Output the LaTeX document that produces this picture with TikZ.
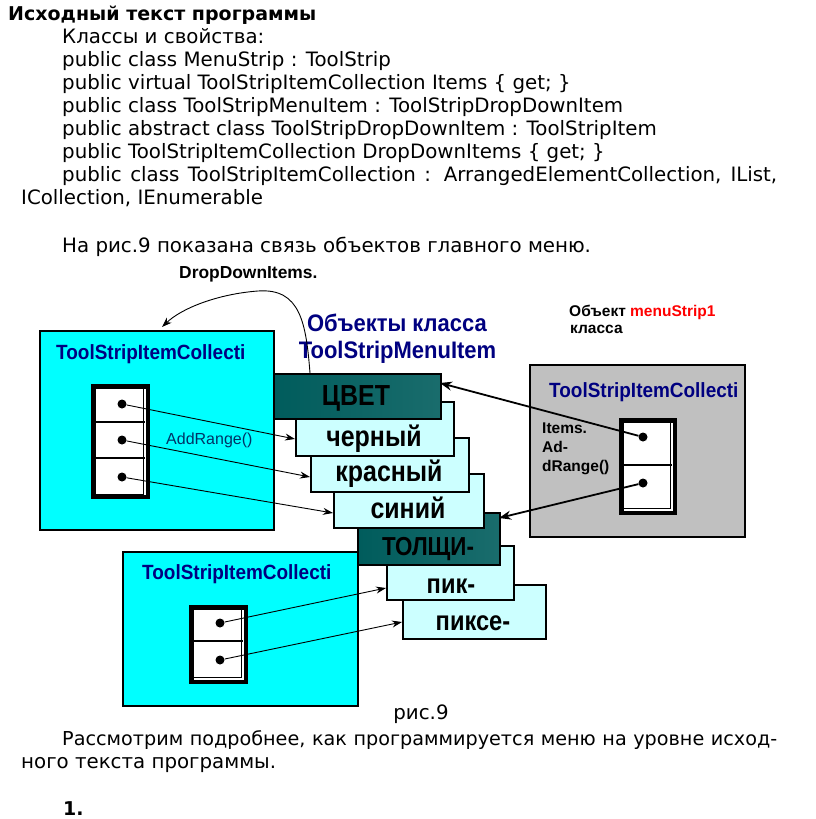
\documentclass[tikz,border=0pt]{standalone}
\usepackage{fontspec}
\setmainfont{DejaVu Sans}
\newfontfamily\arialf{Liberation Sans}
\newfontfamily\arialn{Liberation Sans}[FakeStretch=0.86]
\newfontfamily\arialm{Liberation Sans}[FakeStretch=0.92]
\usetikzlibrary{arrows.meta}
\definecolor{cyanfill}{RGB}{0,255,255}
\definecolor{lightcy}{RGB}{204,255,255}
\definecolor{grayfill}{RGB}{192,192,192}
\definecolor{navytxt}{RGB}{0,0,128}
\definecolor{tealdark}{RGB}{0,92,92}
\definecolor{tealmid}{RGB}{70,165,165}
\definecolor{addcol}{RGB}{0,51,102}
\begin{document}
\begin{tikzpicture}[x=1pt,y=-1pt,
  txt/.style={anchor=base west, inner sep=0, font=\fontsize{19.8}{23}\selectfont},
  hd/.style={anchor=base west, inner sep=0, font=\fontsize{19}{23}\selectfont\bfseries},
  box/.style={draw=black, line width=2pt, anchor=north west, inner sep=0},
  cyanbox/.style={box, fill=cyanfill},
  graybox/.style={box, fill=grayfill},
  itembox/.style={box, fill=lightcy},
  darkbox/.style={box, left color=tealdark, middle color=tealmid, right color=tealdark!90},
  lbl/.style={anchor=base, inner sep=0, font=\arialn\bfseries\fontsize{29}{29}\selectfont},
  lbls/.style={anchor=base, inner sep=0, font=\arialn\bfseries\fontsize{27.5}{28}\selectfont},
  coltitle/.style={anchor=base west, inner sep=0, text=navytxt, font=\arialm\bfseries\fontsize{20.6}{21}\selectfont},
  objtitle/.style={anchor=base, inner sep=0, text=navytxt, font=\arialm\bfseries\fontsize{23.9}{24}\selectfont},
  small/.style={anchor=base west, inner sep=0, font=\arialf\bfseries\fontsize{15.5}{16}\selectfont},
  frameout/.style={draw=black, line width=4.5pt, fill=white, anchor=north west, inner sep=0},
  framein/.style={draw=black, line width=0.7pt, anchor=north west, inner sep=0},
  dot/.style={circle, fill=black, inner sep=0, minimum size=9pt},
  link/.style={-{Stealth[length=10pt,width=7pt]}, line width=0.9pt},
  blink/.style={-{Stealth[length=12pt,width=9pt]}, line width=1.8pt}
]
\useasboundingbox (0,0) rectangle (816,819);
\fill[white] (0,0) rectangle (816,819);

% ---------- text ----------
\node[hd] (h) at (8,20.5) {Исходный текст программы};
\node[txt] (t1) at (62,43.5) {Классы и свойства:};
\node[txt] (t2) at (62,66.5) {public class MenuStrip : ToolStrip};
\node[txt] (t3) at (62,89.5) {public virtual ToolStripItemCollection Items \{ get; \}};
\node[txt] (t4) at (62,112.5) {public class ToolStripMenuItem : ToolStripDropDownItem};
\node[txt] (t5) at (62,135.5) {public abstract class ToolStripDropDownItem : ToolStripItem};
\node[txt] (t6) at (62,158.5) {public ToolStripItemCollection DropDownItems \{ get; \}};
\node[txt] (t7) at (62,181.5) {\makebox[715pt][s]{public class ToolStripItemCollection : ArrangedElementCollection, IList,}};
\node[txt] (t8) at (21,204.5) {ICollection, IEnumerable};
\node[txt] (t9) at (62,252) {На рис.9 показана связь объектов главного меню.};
\node[txt, anchor=base] (cap) at (421,719) {рис.9};
\node[txt, font=\fontsize{19.2}{23}\selectfont] (t10) at (62,745) {\makebox[715pt][s]{Рассмотрим подробнее, как программируется меню на уровне исход-}};
\node[txt] (t11) at (21,768) {ного текста программы.};
\node[hd] (t12) at (63,815) {1.};

% ---------- big boxes ----------
\node[cyanbox, minimum width=234pt, minimum height=199pt] (tl) at (39,330) {};
\node[cyanbox, minimum width=235pt, minimum height=154pt] (bl) at (122,551) {};
\node[graybox, minimum width=215pt, minimum height=172pt] (gr) at (529,364) {};

\node[coltitle] (tlt) at (56,359) {ToolStripItemCollecti};
\node[coltitle] (blt) at (142,579) {ToolStripItemCollecti};
\node[coltitle] (grt) at (549,397) {ToolStripItemCollecti};

% ---------- lists ----------
\node[frameout, minimum width=54.5pt, minimum height=110.5pt] (l1) at (91.25,384.25) {};
\node[framein, minimum width=48pt, minimum height=106pt] (l1i) at (94.5,387.5) {};
\draw[line width=2pt] (92,422) -- (145,422) (92,458) -- (145,458);

\node[frameout, minimum width=53.5pt, minimum height=92.5pt] (l2) at (619.25,418.25) {};
\node[framein, minimum width=47pt, minimum height=86pt] (l2i) at (622.5,421.5) {};
\draw[line width=2pt] (620,465) -- (672,465);

\node[frameout, minimum width=54.5pt, minimum height=74.5pt] (l3) at (189.25,605.25) {};
\node[framein, minimum width=48pt, minimum height=68pt] (l3i) at (192.5,608.5) {};
\draw[line width=2pt] (190,641) -- (243,641);

\node[dot] (d1) at (122,404) {};
\node[dot] (d2) at (122,440) {};
\node[dot] (d3) at (122,477) {};
\node[dot] (g1) at (643,437) {};
\node[dot] (g2) at (643,483) {};
\node[dot] (e1) at (220,623) {};
\node[dot] (e2) at (220,660) {};

% ---------- menu item stack ----------
\node[itembox, minimum width=143pt, minimum height=54pt] (pikse) at (402,584) {};
\node[itembox, minimum width=127pt, minimum height=54pt] (pik) at (386,545) {};
\node[darkbox, minimum width=142pt, minimum height=52pt] (tol) at (357,512) {};
\node[itembox, minimum width=150pt, minimum height=54pt] (sin) at (333,473) {};
\node[itembox, minimum width=158pt, minimum height=54pt] (kras) at (310,437) {};
\node[itembox, minimum width=158pt, minimum height=54pt] (cher) at (295,401) {};
\node[darkbox, minimum width=167pt, minimum height=45pt] (cvet) at (273,373) {};

\node[lbl] at (356,405) {ЦВЕТ};
\node[lbl] at (374,446) {черный};
\node[lbl] at (389,481.5) {красный};
\node[lbl] at (408,518) {синий};
\node[lbls, font=\arialn\bfseries\fontsize{26}{26}\selectfont] at (428,555) {ТОЛЩИ-};
\node[lbls] at (451,593) {пик-};
\node[lbls] at (473,630) {пиксе-};

% ---------- labels ----------
\node[small, font=\arialf\bfseries\fontsize{17.4}{18}\selectfont] (ddi) at (179,278) {DropDownItems.};
\node[objtitle] (oc1) at (397,331) {Объекты класса};
\node[objtitle] (oc2) at (397.5,358) {ToolStripMenuItem};
\node[small] (om1) at (569,316) {Объект \textcolor{red}{menuStrip1}};
\node[small] (om2) at (570,333) {класса};
\node[small] (it1) at (542,433) {Items.};
\node[small] (it2) at (542,452) {Ad-};
\node[small] (it3) at (542,471) {dRange()};
\node[anchor=base west, inner sep=0, text=addcol, font=\arialf\fontsize{16}{16}\selectfont] (ar) at (166,444) {AddRange()};

% ---------- connectors ----------
\coordinate (a1) at (295,439);
\coordinate (a2) at (310,477);
\coordinate (a3) at (333,513);
\coordinate (b1) at (386,588);
\coordinate (b2) at (402,622);
\coordinate (c1) at (440,383);
\coordinate (c2) at (499,518);
\coordinate (dd1) at (310,373);
\coordinate (dd2) at (162,327);

\draw[link] (d1) -- (a1);
\draw[link] (d2) -- (a2);
\draw[link] (d3) -- (a3);
\draw[link] (e1) -- (b1);
\draw[link] (e2) -- (b2);
\draw[blink] (g1) -- (c1);
\draw[blink] (g2) -- (c2);
\draw[link] (dd1) .. controls (306,322) and (300,288) .. (258,291) .. controls (218,294) and (182,308) .. (dd2);
\end{tikzpicture}
\end{document}
